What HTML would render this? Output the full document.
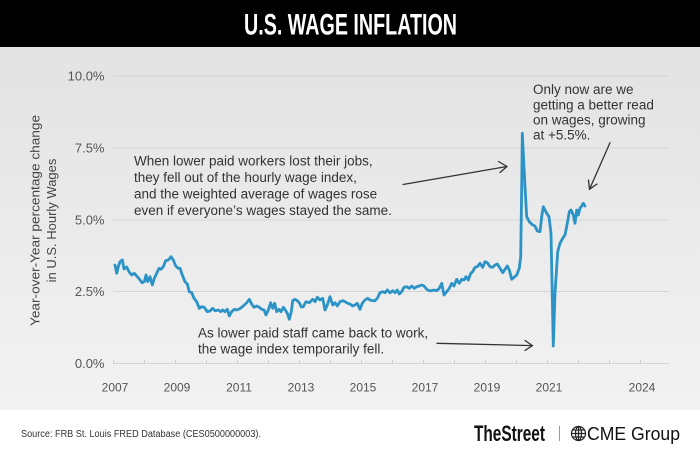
<!DOCTYPE html>
<html>
<head>
<meta charset="utf-8">
<style>
  html,body{margin:0;padding:0;background:#fff;}
  svg{display:block;}
  text{font-family:"Liberation Sans",sans-serif;}
</style>
</head>
<body>
<svg width="700" height="458" viewBox="0 0 700 458" xmlns="http://www.w3.org/2000/svg">
  <defs>
    <linearGradient id="bg" x1="0" y1="0" x2="0" y2="1">
      <stop offset="0" stop-color="#e3e3e3"/>
      <stop offset="1" stop-color="#f2f2f2"/>
    </linearGradient>
  </defs>
  <!-- header -->
  <rect x="0" y="0" width="700" height="47" fill="#000"/>
  <text x="350.5" y="34.3" font-size="29.6" font-weight="bold" fill="#fff" text-anchor="middle" textLength="213" lengthAdjust="spacingAndGlyphs">U.S. WAGE INFLATION</text>
  <!-- chart bg -->
  <rect x="0" y="47" width="700" height="363" fill="url(#bg)"/>
  <!-- footer -->
  <rect x="0" y="410" width="700" height="48" fill="#fff"/>

  <!-- gridlines -->
  <g stroke="#d4d4d4" stroke-width="1">
    <line x1="113" y1="76" x2="669" y2="76"/>
    <line x1="113" y1="148" x2="669" y2="148"/>
    <line x1="113" y1="220" x2="669" y2="220"/>
    <line x1="113" y1="291.5" x2="669" y2="291.5"/>
    <line x1="113" y1="363.5" x2="669" y2="363.5"/>
  </g>
  <!-- ticks -->
  <g stroke="#cfcfcf" stroke-width="1">
    <line x1="113.5" y1="360" x2="113.5" y2="364"/>
    <line x1="144.5" y1="360" x2="144.5" y2="364"/>
    <line x1="175.5" y1="360" x2="175.5" y2="364"/>
    <line x1="206.5" y1="360" x2="206.5" y2="364"/>
    <line x1="237.5" y1="360" x2="237.5" y2="364"/>
    <line x1="268.5" y1="360" x2="268.5" y2="364"/>
    <line x1="299.5" y1="360" x2="299.5" y2="364"/>
    <line x1="330.5" y1="360" x2="330.5" y2="364"/>
    <line x1="361.5" y1="360" x2="361.5" y2="364"/>
    <line x1="392.5" y1="360" x2="392.5" y2="364"/>
    <line x1="423.5" y1="360" x2="423.5" y2="364"/>
    <line x1="454.5" y1="360" x2="454.5" y2="364"/>
    <line x1="485.5" y1="360" x2="485.5" y2="364"/>
    <line x1="516.5" y1="360" x2="516.5" y2="364"/>
    <line x1="547.5" y1="360" x2="547.5" y2="364"/>
    <line x1="578.5" y1="360" x2="578.5" y2="364"/>
    <line x1="609.5" y1="360" x2="609.5" y2="364"/>
    <line x1="640.5" y1="360" x2="640.5" y2="364"/>
  </g>

  <!-- y tick labels -->
  <g font-size="13" fill="#555" text-anchor="end">
    <text x="104.5" y="80.7">10.0%</text>
    <text x="104.5" y="152.7">7.5%</text>
    <text x="104.5" y="224.5">5.0%</text>
    <text x="104.5" y="296">2.5%</text>
    <text x="104.5" y="367.8">0.0%</text>
  </g>
  <!-- x labels -->
  <g font-size="12" fill="#555" text-anchor="middle">
    <text x="115" y="391.3">2007</text>
    <text x="177" y="391.3">2009</text>
    <text x="239" y="391.3">2011</text>
    <text x="301" y="391.3">2013</text>
    <text x="363" y="391.3">2015</text>
    <text x="425" y="391.3">2017</text>
    <text x="487" y="391.3">2019</text>
    <text x="549" y="391.3">2021</text>
    <text x="642" y="391.3">2024</text>
  </g>

  <!-- y axis title -->
  <g font-size="13" fill="#444" text-anchor="middle">
    <text transform="translate(39.5,220.5) rotate(-90)" textLength="211" lengthAdjust="spacingAndGlyphs">Year-over-Year percentage change</text>
    <text transform="translate(56,220.5) rotate(-90)">in U.S. Hourly Wages</text>
  </g>

  <!-- data line -->
  <polyline fill="none" stroke="#2b93c6" stroke-width="2.8" stroke-linejoin="round" stroke-linecap="round" points="
115,265 116.7,273.3 118.3,266.7 120,261.7 122.3,260 124,269 126.7,267 129,271.7 131.7,275 134.3,273.3 136.7,276 139.3,279 142,282.7 144.3,281.7 146,275 147.7,281.7 150,276.7 152.3,285 154.3,278.3 156.7,273.3 159,268.3 161,269.3 163.3,266.7 165.7,260.7 168.3,260 171,256.7 173.3,260 175.7,266 178.3,268.3 180,268.3 182.3,275 185,281.7 187.3,284 189.3,291.7 191.7,292.7 194,298.3 196.7,301.7 199.3,308.3 201.7,306.7 204.3,307.3 207.3,311.7 210,311 212.7,308.3 215,310.7 218.3,310 220.7,311.7 222.7,310 225,311.7 227.3,309.3 229.3,316 231.7,311.7 234.3,309.3 236.7,310 239.3,309 241.7,307.3 244.3,305 246.7,302.7 249.3,299.3 251.7,304 254,307.3 256.7,306 259.3,307.3 261.7,309.3 264,310 266,315 268.3,310 270.7,302.7 272.7,308.3 274.7,303.3 276.7,311.7 279,309.3 281,311.7 283.3,307.3 285.3,310 287.3,313.3 289.3,319.3 291.3,311.7 292.7,300.7 295,299.3 297.3,300.7 299.3,302.7
301.3,307 303.3,306.7 306,301.7 309.3,302.7 312.7,299.3 315,301.7 317.3,297.3 320,300 322.7,298.3 325,310 327.3,305 330,296.7 332.7,305 335,302.7 337.3,306 340,301.7 342.7,300.7 345,301.7 347.7,303.3 350,304 352.7,306 355,305 357.3,303.3 360,309.3 362.3,303.3 365,300 367.7,298.3 370,300 372.7,300.7 375,300.7 377.3,298.3 380,292.7 382.7,291.7 385,292.7 387.3,290 390,292.7 392.7,290.7 395,292.7 397.3,290 399.3,294 401.7,291.7 404,287.3 406.7,286.7 409.3,288.3 411.7,286 414.3,288.3 416.7,286.7 419.3,286 421.7,285 424,286 426.7,289.3 429.3,290.7 431.7,290.7 434,290 436.7,290.7 439.3,288.3 441.7,283.3 444,295 446.7,291.7 449.3,288.3 451.7,283.3 454,286 456.7,279.3 459.3,283.3 461.7,279.3 464,280 466,276.7 468.3,280 470.7,273.3 472.7,271.7 475,267.3 477.3,266.7 480,263.3
482.7,267.3 485,261.7 487.3,262.7 490,266.7 492.7,267.3 495,265 497.3,264 500,268.3 502.7,272.7 505,269.3 507.3,266 509.3,270 511.7,279.3 514,277.3 516.7,275 519.3,268.3 520.7,256.7 521.7,186.7 522.3,133.3 523.3,153.3 525,186.7 526.7,216.7 529.3,221.7 532.7,225 535,226 537.3,231 540,231.7 541.7,216.7 543.3,206.7 545,210 546.7,213.3 549,216.7 551,233.3 553.3,346 555,293.3 557.7,251.7 560,243.3 562.7,238.3 565,235 567.3,223.3 569.3,211.7 571,210 573.3,215 575,223.3 576.7,210 578.3,215 580,208.3 581.7,206 583.3,203.3 585,206"/>

  <!-- annotations -->
  <g font-size="13.5" fill="#333">
    <text x="134" y="165.5">When lower paid workers lost their jobs,</text>
    <text x="134" y="182">they fell out of the hourly wage index,</text>
    <text x="134" y="198.5">and the weighted average of wages rose</text>
    <text x="134" y="215">even if everyone’s wages stayed the same.</text>

    <text x="198" y="337.5">As lower paid staff came back to work,</text>
    <text x="198" y="353.5">the wage index temporarily fell.</text>

    <text x="533" y="94">Only now are we</text>
    <text x="533" y="109.3">getting a better read</text>
    <text x="533" y="124.5">on wages, growing</text>
    <text x="533" y="139.5">at +5.5%.</text>
  </g>

  <!-- arrows -->
  <g stroke="#333" stroke-width="1.3" fill="none" stroke-linecap="round" stroke-linejoin="round">
    <line x1="403" y1="184.5" x2="507" y2="166.5"/>
    <polyline points="498.5,161.5 507,166.5 500,172.5"/>
    <line x1="437" y1="343.3" x2="532.5" y2="345.6"/>
    <polyline points="525,340.5 532.5,345.6 525,350.5"/>
    <line x1="610" y1="142.7" x2="589.5" y2="189.3"/>
    <polyline points="588.5,180 589.5,189.3 597,184"/>
  </g>

  <!-- footer text -->
  <text x="21" y="437" font-size="10" fill="#333" textLength="240" lengthAdjust="spacingAndGlyphs">Source: FRB St. Louis FRED Database (CES0500000003).</text>
  <text x="474" y="441" font-size="22" font-weight="bold" fill="#111" textLength="71" lengthAdjust="spacingAndGlyphs">TheStreet</text>
  <line x1="559.5" y1="426" x2="559.5" y2="441" stroke="#999" stroke-width="1"/>
  <g stroke="#222" stroke-width="1.2" fill="none">
    <circle cx="578.5" cy="433.5" r="7"/>
    <ellipse cx="578.5" cy="433.5" rx="3" ry="7"/>
    <line x1="578.5" y1="426.5" x2="578.5" y2="440.5"/>
    <line x1="571.5" y1="433.5" x2="585.5" y2="433.5"/>
    <line x1="572.5" y1="430" x2="584.5" y2="430"/>
    <line x1="572.5" y1="437" x2="584.5" y2="437"/>
  </g>
  <text x="587" y="440" font-size="18" fill="#111" textLength="93" lengthAdjust="spacingAndGlyphs">CME Group</text>
</svg>
</body>
</html>
